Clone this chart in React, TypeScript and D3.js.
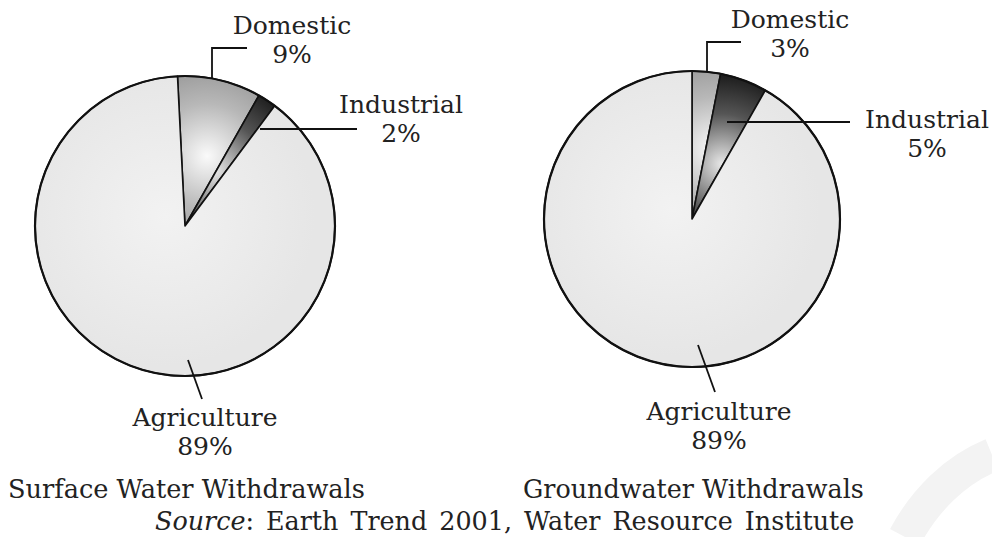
import React from "react";
import * as d3 from "d3";

// slice data, clockwise from 12 o'clock
const categories = ["Domestic", "Industrial", "Agriculture"];
const surfaceValues = [9, 2, 89];
const groundValues = [3, 5, 89];
const chartTitles = ["Surface Water Withdrawals", "Groundwater Withdrawals"];
const sourceLine = ["Source", ": Earth Trend 2001, Water Resource Institute"];

const W = 992;
const H = 537;
const FONT = "'DejaVu Serif', serif";

type LabelSpec = {
  path: [number, number][];
  tx: number;
  ty: number;
};

type PieSpec = {
  id: string;
  values: number[];
  cx: number;
  cy: number;
  r: number;
  start: number;
  labels: LabelSpec[];
};

const pies: PieSpec[] = [
  {
    id: "sw",
    values: surfaceValues,
    cx: 185,
    cy: 226,
    r: 150,
    start: -0.05,
    labels: [
      { path: [[212, 79], [212, 48], [247, 48]], tx: 292, ty: 34 },
      { path: [[260, 129], [357, 129]], tx: 401, ty: 113 },
      { path: [[188, 360], [202, 399]], tx: 205, ty: 426 },
    ],
  },
  {
    id: "gw",
    values: groundValues,
    cx: 692,
    cy: 219,
    r: 148,
    start: 0,
    labels: [
      { path: [[707, 72], [707, 42], [741, 42]], tx: 790, ty: 28 },
      { path: [[727, 122], [850, 122]], tx: 927, ty: 128 },
      { path: [[698, 345], [715, 392]], tx: 719, ty: 420 },
    ],
  },
];

function Pie({ spec }: { spec: PieSpec }) {
  const data = categories.map((c, i) => ({ name: c, value: spec.values[i] }));
  const pie = d3
    .pie<{ name: string; value: number }>()
    .sort(null)
    .value((d) => d.value)
    .startAngle(spec.start)
    .endAngle(spec.start + Math.PI * 2);
  const arcs = pie(data);
  const arc = d3
    .arc<d3.PieArcDatum<{ name: string; value: number }>>()
    .innerRadius(0)
    .outerRadius(spec.r);

  const fills = [
    `url(#${spec.id}-dom)`,
    `url(#${spec.id}-ind)`,
    `url(#${spec.id}-agr)`,
  ];

  return (
    <g>
      <defs>
        {/* gradients are in the pie's local (translated) space */}
        <radialGradient
          id={`${spec.id}-dom`}
          gradientUnits="userSpaceOnUse"
          cx={22}
          cy={-70}
          r={spec.r * 0.7}
        >
          <stop offset="0" stopColor="#fafafa" />
          <stop offset="0.5" stopColor="#b8b8b8" />
          <stop offset="1" stopColor="#8c8c8c" />
        </radialGradient>
        <radialGradient
          id={`${spec.id}-ind`}
          gradientUnits="userSpaceOnUse"
          cx={30}
          cy={-55}
          r={spec.r * 0.85}
        >
          <stop offset="0" stopColor="#e8e8e8" />
          <stop offset="0.4" stopColor="#555" />
          <stop offset="0.75" stopColor="#151515" />
          <stop offset="1" stopColor="#000" />
        </radialGradient>
        <radialGradient
          id={`${spec.id}-agr`}
          gradientUnits="userSpaceOnUse"
          cx={-20}
          cy={-10}
          r={spec.r}
        >
          <stop offset="0" stopColor="#f2f2f2" />
          <stop offset="1" stopColor="#e6e6e6" />
        </radialGradient>
      </defs>
      <g transform={`translate(${spec.cx},${spec.cy})`}>
        {arcs.map((a, i) => (
          <path
            key={i}
            d={arc(a) || ""}
            fill={fills[i]}
            stroke="#111"
            strokeWidth={1.6}
            strokeLinejoin="round"
          />
        ))}
        <circle r={spec.r} fill="none" stroke="#111" strokeWidth={2.2} />
      </g>
      {spec.labels.map((l, i) => (
        <g key={i}>
          <polyline
            points={l.path.map((p) => p.join(",")).join(" ")}
            fill="none"
            stroke="#111"
            strokeWidth={1.8}
          />
          <text
            x={l.tx}
            y={l.ty}
            textAnchor="middle"
            fontFamily={FONT}
            fontSize={25}
            fill="#222"
          >
            <tspan x={l.tx}>{categories[i]}</tspan>
            <tspan x={l.tx} dy={29}>
              {spec.values[i]}%
            </tspan>
          </text>
        </g>
      ))}
    </g>
  );
}

export default function App() {
  return (
    <svg
      width={W}
      height={H}
      style={{ position: "absolute", left: 0, top: 0, background: "#fff" }}
    >
      <rect width={W} height={H} fill="#fff" />
      {/* faint watermark in the corner */}
      <path
        d="M905,537 C925,500 955,470 992,455"
        fill="none"
        stroke="#f3f3f3"
        strokeWidth={34}
      />
      {pies.map((p) => (
        <Pie key={p.id} spec={p} />
      ))}
      <text x={8} y={498} fontFamily={FONT} fontSize={25.6} fill="#222">
        {chartTitles[0]}
      </text>
      <text x={523} y={498} fontFamily={FONT} fontSize={25.4} fill="#222">
        {chartTitles[1]}
      </text>
      <text
        x={155}
        y={530}
        fontFamily={FONT}
        fontSize={25.4}
        wordSpacing={4}
        fill="#222"
      >
        <tspan fontStyle="italic">{sourceLine[0]}</tspan>
        <tspan>{sourceLine[1]}</tspan>
      </text>
    </svg>
  );
}
